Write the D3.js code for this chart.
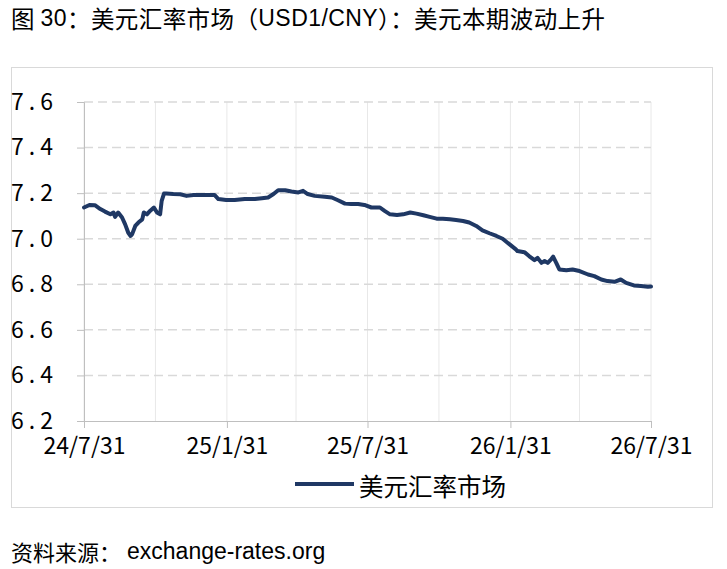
<!DOCTYPE html>
<html>
<head>
<meta charset="utf-8">
<script src="https://cdn.jsdelivr.net/npm/d3@7"></script>
<style>
  body { margin: 0; background: #fff; }
  svg text { font-family: "Noto Sans CJK SC", "Noto Sans", sans-serif; fill: #000; }
  .latin { font-family: "Liberation Sans", Arial, sans-serif; }
  .tick-num { font-family: "Liberation Sans Narrow", "Arial Narrow", "Noto Sans CJK SC", sans-serif; }
</style>
</head>
<body>
<div id="chart"></div>
<script>
// USD/CNY
const dates = [
  "2024-07-31","2024-08-07","2024-08-14","2024-08-21","2024-08-27","2024-09-03","2024-09-07","2024-09-09",
  "2024-09-13","2024-09-18","2024-09-22","2024-09-26","2024-09-29","2024-10-01","2024-10-05","2024-10-09",
  "2024-10-14","2024-10-16","2024-10-20","2024-10-24","2024-10-29","2024-11-02","2024-11-06","2024-11-08",
  "2024-11-11","2024-11-14","2024-11-23","2024-12-02","2024-12-10","2024-12-19","2024-12-28","2025-01-05",
  "2025-01-15","2025-01-20","2025-01-30","2025-02-10","2025-02-23","2025-03-08","2025-03-17","2025-03-25",
  "2025-04-01","2025-04-07","2025-04-16","2025-04-24","2025-05-03","2025-05-09","2025-05-15","2025-05-24",
  "2025-06-06","2025-06-15","2025-06-23","2025-07-02","2025-07-10","2025-07-19","2025-07-27","2025-08-05",
  "2025-08-16","2025-08-22","2025-08-29","2025-09-07","2025-09-15","2025-09-24","2025-10-02","2025-10-11",
  "2025-10-19","2025-10-28","2025-11-05","2025-11-14","2025-11-22","2025-12-01","2025-12-09","2025-12-18",
  "2025-12-26","2026-01-04","2026-01-13","2026-01-21","2026-01-30","2026-02-07","2026-02-09","2026-02-18",
  "2026-02-24","2026-03-03","2026-03-07","2026-03-12","2026-03-16","2026-03-20","2026-03-25","2026-03-27",
  "2026-03-31","2026-04-04","2026-04-13","2026-04-21","2026-04-30","2026-05-11","2026-05-19","2026-05-28",
  "2026-06-05","2026-06-14","2026-06-22","2026-06-29","2026-07-09","2026-07-18","2026-07-27","2026-07-31"
];
const rates = [
  7.137,7.148,7.147,7.130,7.119,7.107,7.115,7.096,
  7.115,7.093,7.063,7.026,7.012,7.020,7.056,7.071,
  7.085,7.115,7.107,7.122,7.137,7.115,7.107,7.166,
  7.198,7.198,7.196,7.195,7.188,7.192,7.192,7.192,
  7.192,7.174,7.170,7.170,7.174,7.174,7.178,7.181,
  7.196,7.213,7.213,7.207,7.203,7.210,7.196,7.188,
  7.184,7.181,7.169,7.154,7.152,7.152,7.148,7.137,
  7.137,7.122,7.107,7.104,7.107,7.115,7.110,7.103,
  7.096,7.088,7.088,7.085,7.082,7.078,7.071,7.056,
  7.037,7.024,7.012,7.000,6.975,6.953,6.946,6.941,
  6.924,6.906,6.916,6.894,6.902,6.894,6.912,6.921,
  6.894,6.865,6.862,6.865,6.858,6.843,6.836,6.821,
  6.814,6.811,6.821,6.806,6.795,6.792,6.789,6.790
];
const yTicks = [6.2, 6.4, 6.6, 6.8, 7.0, 7.2, 7.4, 7.6];
const xTickLabels = ["24/7/31", "25/1/31", "25/7/31", "26/1/31", "26/7/31"];
const xGridLabels = ["24/7/31", "24/10/31", "25/1/31", "25/4/30", "25/7/31", "25/10/31", "26/1/31", "26/4/30", "26/7/31"];
const seriesName = "美元汇率市场";
// title / source split into CJK and latin runs
const titleParts = [["图 ", false], ["30", true], ["：美元汇率市场（", false], ["USD1/CNY", true], ["）：美元本期波动上升", false]];
const sourceParts = [["资料来源：", false], ["exchange-rates.org", true]];

const width = 727, height = 569;
const lineColor = "#1f3864";
const parseDay = d3.timeParse("%Y-%m-%d");
const parseTick = d3.timeParse("%y/%m/%d");
const data = dates.map((d, i) => ({ date: parseDay(d), value: rates[i] }));

const svg = d3.select("#chart").append("svg")
  .attr("width", width)
  .attr("height", height);

const x = d3.scaleTime()
  .domain([parseTick("24/7/31"), parseTick("26/7/31")])
  .range([84, 651]);
const y = d3.scaleLinear()
  .domain([6.2, 7.6])
  .range([421, 102]);

function mixedText(parts, px, py, cjkSize, latinSize) {
  const t = svg.append("text")
    .attr("x", px).attr("y", py)
    .attr("dominant-baseline", "central");
  t.selectAll("tspan")
    .data(parts)
    .join("tspan")
      .attr("class", d => d[1] ? "latin" : null)
      .style("font-size", d => (d[1] ? latinSize : cjkSize) + "px")
      .text(d => d[0]);
  return t;
}

// title + outer frame
mixedText(titleParts, 11, 18, 23.5, 23)
  .attr("textLength", 594)
  .attr("lengthAdjust", "spacing");

svg.append("rect")
  .attr("x", 11.5).attr("y", 67.5)
  .attr("width", 701).attr("height", 440)
  .attr("fill", "none")
  .attr("stroke", "#d9d9d9");

// grid
svg.append("g")
  .selectAll("line")
  .data(xGridLabels.map(parseTick))
  .join("line")
    .attr("x1", d => x(d)).attr("x2", d => x(d))
    .attr("y1", y(7.6)).attr("y2", y(6.2))
    .attr("stroke", "#e8e8e8");

svg.append("g")
  .selectAll("line")
  .data(yTicks.slice(1))
  .join("line")
    .attr("x1", x.range()[0]).attr("x2", x.range()[1])
    .attr("y1", d => y(d)).attr("y2", d => y(d))
    .attr("stroke", "#d9d9d9")
    .attr("stroke-width", 1.5)
    .attr("stroke-dasharray", "9 5");

// axes
const yAxis = svg.append("g")
  .attr("transform", `translate(${x.range()[0]},0)`)
  .call(d3.axisLeft(y).tickValues(yTicks).tickSize(7).tickPadding(12).tickFormat(d3.format(".1f")));
yAxis.select(".domain").attr("stroke", "#bfbfbf");
yAxis.selectAll(".tick line").attr("stroke", "#bfbfbf");
yAxis.selectAll("text")
  .attr("class", "tick-num")
  .style("font-size", "23px")
  .style("letter-spacing", "5px")
  .attr("x", -26);

const xAxis = svg.append("g")
  .attr("transform", `translate(0,${y.range()[0]})`)
  .call(d3.axisBottom(x).tickValues(xTickLabels.map(parseTick)).tickSize(7).tickPadding(10)
    .tickFormat(d3.timeFormat("%y/%-m/%d")));
xAxis.select(".domain").attr("stroke", "#bfbfbf");
xAxis.selectAll(".tick line").attr("stroke", "#bfbfbf");
xAxis.selectAll("text")
  .attr("class", "tick-num")
  .style("font-size", "23px");

// series
svg.append("path")
  .datum(data)
  .attr("fill", "none")
  .attr("stroke", lineColor)
  .attr("stroke-width", 4)
  .attr("stroke-linejoin", "round")
  .attr("stroke-linecap", "round")
  .attr("d", d3.line().x(d => x(d.date)).y(d => y(d.value)));

// legend
svg.append("line")
  .attr("x1", 295).attr("x2", 354)
  .attr("y1", 484).attr("y2", 484)
  .attr("stroke", lineColor)
  .attr("stroke-width", 4);
svg.append("text")
  .attr("x", 359).attr("y", 485)
  .attr("dominant-baseline", "central")
  .style("font-size", "24.5px")
  .text(seriesName);

mixedText(sourceParts, 11, 551, 22, 23)
  .select("tspan.latin").attr("dx", 6);
</script>
</body>
</html>
